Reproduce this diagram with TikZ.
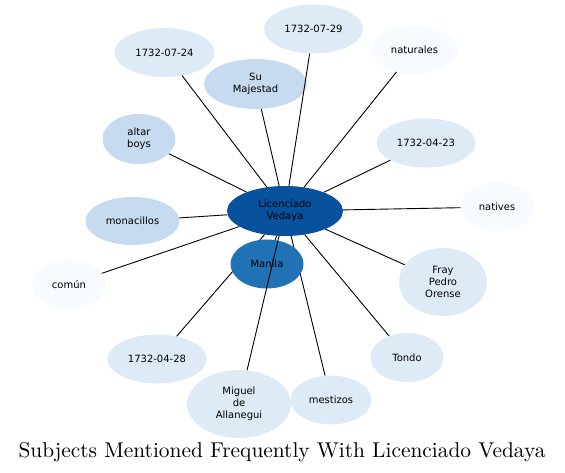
\documentclass[tikz,border=0pt]{standalone}
\usepackage{fontspec}
\newfontfamily\dejavu{DejaVu Sans}
\usetikzlibrary{shapes.geometric}
\definecolor{blueA}{HTML}{08519C}
\definecolor{blueB}{HTML}{2171B5}
\definecolor{blueC}{HTML}{C6DBEF}
\definecolor{blueD}{HTML}{DEEBF7}
\definecolor{blueE}{HTML}{F7FBFF}
\begin{document}
\begin{tikzpicture}[x=1pt,y=-1pt,
    bub/.style={ellipse,inner sep=0pt,align=center,font=\dejavu\fontsize{10}{12}\selectfont},
    link/.style={line width=0.9pt,black}]
  \useasboundingbox (0,0) rectangle (565,473);
  \node[bub,fill=blueA,minimum width=116pt,minimum height=50pt] (lic) at (285,211) {Licenciado\\Vedaya};
  % outer subjects: name/x/y/width/height/colour/text
  \foreach \nm/\x/\y/\w/\h/\col/\txt in {
      d0724/164.5/52.5/100/49/blueD/1732-07-24,
      suM/255.5/84/103/50/blueC/{Su\\Majestad},
      d0729/313.5/29/99/49/blueD/1732-07-29,
      nat/414.5/49.5/86/49/blueE/naturales,
      altar/139/139/73/50/blueC/{altar\\boys},
      d0423/426/143/99/49/blueD/1732-04-23,
      mona/132.5/221/94/48/blueC/monacillos,
      natv/497/207/73/49/blueE/natives,
      comun/69/284.5/73/49/blueE/común,
      fray/443/282/88/68/blueD/{Fray\\Pedro\\Orense},
      tondo/407/357.5/73/49/blueD/Tondo,
      d0428/157/359/99/49/blueD/1732-04-28,
      miguel/239/404/104/68/blueD/{Miguel\\de\\Allanegui},
      mest/331/400/81/49/blueD/mestizos} {
    \node[bub,fill=\col,minimum width=\w pt,minimum height=\h pt] (\nm) at (\x,\y) {\txt};
  }
  \foreach \nm in {d0724,suM,d0729,nat,altar,d0423,mona,natv,comun,fray,tondo,d0428,mest}
    \draw[link] (lic) -- (\nm);
  \node[bub,fill=blueB,minimum width=73pt,minimum height=49pt] (manila) at (267,264) {Manila};
  \draw[link] (lic) -- (manila);
  \draw[link] (lic) -- (miguel);
  \node[font=\fontsize{10}{12}\selectfont,scale=2.14,transform shape,anchor=base,inner sep=0pt] (title) at (282,457)
    {Subjects Mentioned Frequently With Licenciado Vedaya};
\end{tikzpicture}
\end{document}
